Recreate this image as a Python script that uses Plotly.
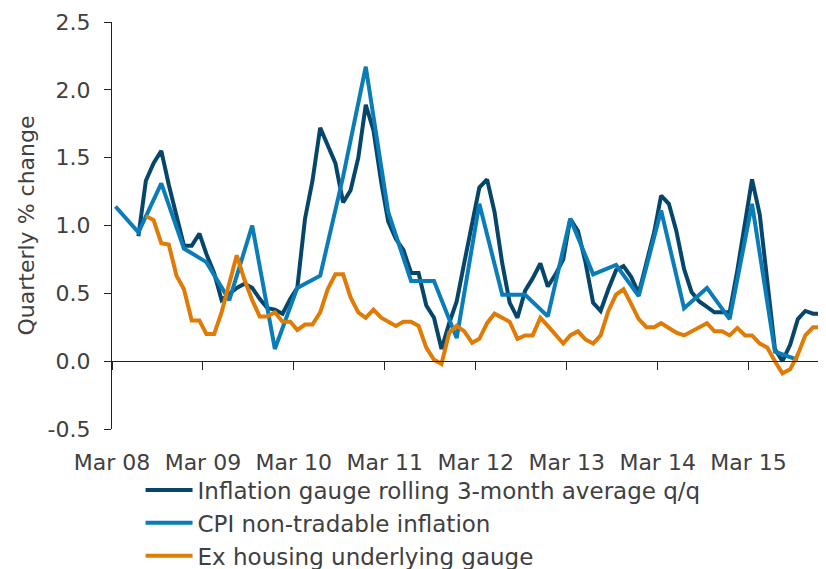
import pandas as pd
import plotly.graph_objects as go

# Monthly categories: Mar 2008 .. Dec 2015 (plotted mid-month)
months = pd.date_range("2008-03-01", "2015-12-01", freq="MS") + pd.Timedelta(days=14)
quarters = months[0:91:3]

gauge_3m = [None, None, None,
            0.92, 1.33, 1.46, 1.55, 1.30, 1.07, 0.85, 0.85, 0.94, 0.79,
            0.65, 0.45, 0.50, 0.54, 0.57, 0.54, 0.46, 0.39, 0.38, 0.35,
            0.46, 0.54, 1.05, 1.33, 1.72, 1.59, 1.46, 1.17, 1.26, 1.50,
            1.89, 1.70, 1.32, 1.03, 0.90, 0.82, 0.65, 0.65, 0.41, 0.32,
            0.09, 0.28, 0.44, 0.73, 1.00, 1.28, 1.34, 1.10, 0.72, 0.43,
            0.32, 0.52, 0.61, 0.72, 0.55, 0.64, 0.75, 1.05, 0.96, 0.73,
            0.43, 0.37, 0.53, 0.67, 0.70, 0.62, 0.50, 0.72, 0.95, 1.22,
            1.16, 0.96, 0.68, 0.51, 0.44, 0.40, 0.36, 0.36, 0.36, 0.67,
            1.00, 1.34, 1.08, 0.62, 0.09, 0.00, 0.12, 0.31, 0.37, 0.35,
            0.35]

cpi_nontradable = [1.14, 0.95, 1.31, 0.83, 0.73, 0.45, 1.00, 0.09, 0.54, 0.63,
                   1.36, 2.17, 1.10, 0.59, 0.59, 0.17, 1.16, 0.49, 0.49, 0.33,
                   1.05, 0.64, 0.71, 0.48, 1.11, 0.39, 0.54, 0.31, 1.16, 0.07,
                   0.01]

ex_housing = [None, None, None, None,
              1.07, 1.04, 0.87, 0.86, 0.63, 0.53, 0.30, 0.30, 0.20, 0.20,
              0.36, 0.58, 0.78, 0.60, 0.45, 0.33, 0.33, 0.36, 0.29, 0.29,
              0.23, 0.27, 0.27, 0.36, 0.53, 0.64, 0.64, 0.47, 0.36, 0.32,
              0.38, 0.32, 0.29, 0.26, 0.29, 0.29, 0.26, 0.10, 0.01, -0.02,
              0.21, 0.26, 0.22, 0.135, 0.165, 0.28, 0.35, 0.32, 0.29, 0.165,
              0.19, 0.19, 0.32, 0.26, 0.19, 0.13, 0.19, 0.22, 0.16, 0.13,
              0.19, 0.37, 0.49, 0.53, 0.42, 0.31, 0.25, 0.25, 0.28, 0.245,
              0.21, 0.19, 0.22, 0.25, 0.28, 0.22, 0.22, 0.19, 0.245, 0.19,
              0.19, 0.13, 0.10, 0.00, -0.09, -0.06, 0.05, 0.19, 0.25, 0.25]

tick_dates = pd.date_range("2008-03-01", "2015-03-01", freq="12MS")
tick_labels = ["Mar 08", "Mar 09", "Mar 10", "Mar 11", "Mar 12", "Mar 13", "Mar 14", "Mar 15"]

series_names = ["Inflation gauge rolling 3-month average q/q",
                "CPI non-tradable inflation",
                "Ex housing underlying gauge"]
colors = ["#06466B", "#0A7DB8", "#E07B05"]

FONT = "DejaVu Sans"
TXT = "#404040"

fig = go.Figure()
fig.add_trace(go.Scatter(x=months, y=gauge_3m, mode="lines", name=series_names[0],
                         line=dict(color=colors[0], width=4), legendgroup="a"))
fig.add_trace(go.Scatter(x=quarters, y=cpi_nontradable, mode="lines", name=series_names[1],
                         line=dict(color=colors[1], width=4), legendgroup="b"))
fig.add_trace(go.Scatter(x=months, y=ex_housing, mode="lines", name=series_names[2],
                         line=dict(color=colors[2], width=4), legendgroup="c"))
# helper trace for the zero-line axis with tick marks
fig.add_trace(go.Scatter(x=months, y=[None] * len(months), xaxis="x2", showlegend=False,
                         hoverinfo="skip"))

xr = ["2008-03-01", "2016-01-06"]
fig.update_layout(
    width=826, height=569,
    # page body adds an 8px offset; margins compensate for it
    margin=dict(l=104, r=8, t=14, b=148, autoexpand=False),
    paper_bgcolor="white", plot_bgcolor="white",
    font=dict(family=FONT, size=22, color=TXT),
    showlegend=True,
    legend=dict(x=0.04, y=-0.097, xanchor="left", yanchor="top",
                font=dict(family=FONT, size=23, color=TXT),
                traceorder="grouped", tracegroupgap=0, itemwidth=47,
                bgcolor="rgba(0,0,0,0)"),
    xaxis=dict(range=xr, tickvals=tick_dates, ticktext=tick_labels,
               showline=False, ticks="", showgrid=False, zeroline=False,
               automargin=False,
               tickfont=dict(family=FONT, size=22, color=TXT),
               ticklabelstandoff=18),
    xaxis2=dict(range=xr, overlaying="x", anchor="free", position=1 / 6,
                tickvals=tick_dates, showticklabels=False, automargin=False,
                showline=True, linecolor="#222222", linewidth=1.3,
                ticks="outside", ticklen=8, tickcolor="#222222", tickwidth=1.3,
                showgrid=False, zeroline=False),
    yaxis=dict(range=[-0.5, 2.5], tickvals=[-0.5, 0, 0.5, 1.0, 1.5, 2.0, 2.5],
               ticktext=["-0.5", "0.0", "0.5", "1.0", "1.5", "2.0", "2.5"],
               showline=True, linecolor="#222222", linewidth=1.3,
               ticks="outside", ticklen=7, tickcolor="#222222", tickwidth=1.3,
               showgrid=False, zeroline=False, automargin=False,
               tickfont=dict(family=FONT, size=22, color=TXT),
               ticklabelstandoff=9,
               title=dict(text="Quarterly % change", standoff=6,
                          font=dict(family=FONT, size=22, color=TXT))),
)

fig.write_html("out.html")
